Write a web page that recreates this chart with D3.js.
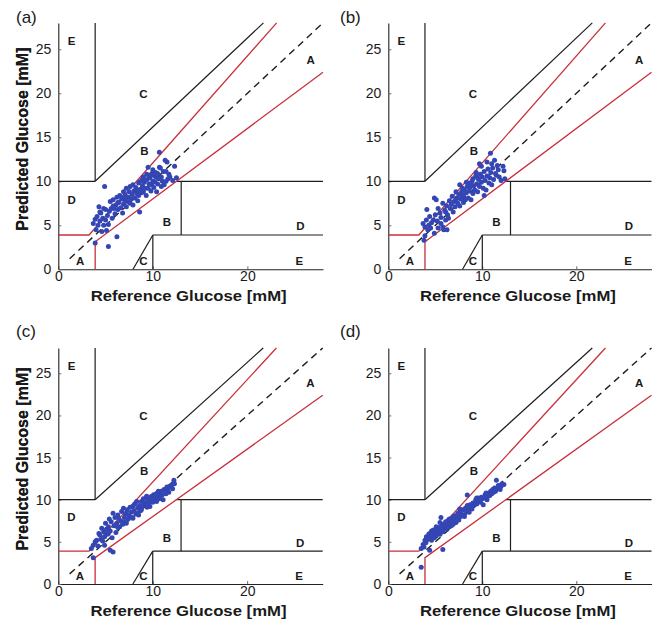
<!DOCTYPE html>
<html>
<head>
<meta charset="utf-8">
<script src="https://cdn.jsdelivr.net/npm/d3@7"></script>
<style>
  body { margin: 0; background: #fff; }
  svg { display: block; }
  text { font-family: "Liberation Sans", Arial, sans-serif; fill: #1a1a1a; }
</style>
</head>
<body>
<svg id="chart" width="652" height="620"></svg>
<script>
// Clarke error grid, 4 panels: reference vs predicted glucose (mM)
const xTicks = [0, 10, 20];
const yTicks = [0, 5, 10, 15, 20, 25];
const axisMax = 28;

// zone letters in data coords
const zoneLabels = [
  { t: "E", x: 1.4, y: 25.9 }, { t: "C", x: 9.0, y: 19.9 }, { t: "B", x: 9.1, y: 13.4 },
  { t: "A", x: 26.7, y: 23.8 }, { t: "D", x: 1.4, y: 7.9 }, { t: "B", x: 11.5, y: 5.4 },
  { t: "D", x: 25.6, y: 4.9 }, { t: "A", x: 2.3, y: 0.9 }, { t: "C", x: 9.0, y: 0.9 },
  { t: "E", x: 25.5, y: 0.9 }
];

// zone boundaries
const blackLines = [
  [[3.9, 10], [3.9, 28]],
  [[0, 10], [3.9, 10]],
  [[3.9, 10], [21.7, 28]],
  [[12.5, 10], [28, 10]],
  [[13, 3.9], [13, 10]],
  [[10, 3.9], [28, 3.9]],
  [[10, 0], [10, 3.9]],
  [[7.9, 0], [10, 3.9]]
];
const redLines = [
  [[0, 3.9], [3.25, 3.9], [23.1, 28]],
  [[3.9, 0], [3.9, 3.12], [28, 22.4]]
];
const identityLine = [[1.2, 1.2], [28, 28]];

// scatter points [reference, predicted]
const pointsA = [
  [3.7,5.2],[3.9,5.7],[4.1,6.0],[4.0,4.5],[4.2,5.0],[4.4,6.5],[4.6,4.3],[4.8,5.0],[4.8,6.9],[5.1,4.4],
  [5.3,5.1],[3.9,3.0],[5.3,2.6],[6.2,3.7],[4.9,9.4],[4.3,7.1],[4.5,6.4],[5.0,5.6],[5.2,6.1],[5.5,7.7],
  [5.4,6.6],[5.7,5.8],[5.8,7.9],[5.9,6.9],[6.0,6.3],[6.2,8.2],[6.1,7.3],[6.3,6.8],[6.5,8.4],[6.4,7.6],
  [6.6,7.0],[6.7,8.0],[6.8,6.4],[6.9,8.8],[6.9,7.4],[7.0,7.9],[7.1,8.4],[7.2,9.2],[7.2,7.1],[7.3,7.7],
  [7.4,8.2],[7.5,8.8],[7.6,9.4],[7.6,7.5],[7.7,8.0],[7.8,8.5],[7.9,9.6],[7.9,7.3],[8.0,8.9],[8.1,8.1],
  [8.2,9.3],[8.3,8.6],[8.4,7.8],[8.5,8.4],[8.5,9.8],[8.6,9.96],[8.6,6.5],[8.7,9.1],[8.8,8.7],[8.9,9.5],
  [9.0,8.8],[9.0,10.5],[9.1,9.9],[9.2,9.2],[9.3,8.4],[9.35,10.8],[9.4,10.2],[9.5,9.2],[9.5,11.6],[9.6,9.7],
  [9.7,10.4],[9.8,8.9],[9.9,9.6],[9.9,10.9],[10.0,11.3],[10.0,10.0],[10.1,9.3],[10.2,9.96],[10.3,11.0],[10.3,10.5],
  [10.4,8.8],[10.5,9.7],[10.6,10.3],[10.7,11.6],[10.69,13.3],[10.8,11.5],[10.9,10.5],[10.9,9.4],[11.0,10.0],[11.1,11.1],
  [11.3,12.4],[11.4,11.1],[11.5,12.2],[11.6,10.3],[11.7,10.8],[11.8,10.5],[12.1,10.1],[12.3,11.7],[12.5,10.4],[11.2,9.6],
  [10.1,10.7],[8.4,9.0],[7.0,8.3],[6.3,7.6],[5.6,6.9],[4.7,5.8],[4.4,5.5],[5.0,6.8],[5.8,7.2],[8.9,10.2],
  [9.6,10.7],[10.5,10.9],[11.4,10.0]
];
const pointsB = [
  [3.8,3.3],[3.9,3.8],[3.7,5.2],[3.9,4.8],[4.05,5.6],[4.1,6.8],[4.2,4.5],[4.4,6.0],[4.5,4.7],[4.6,5.3],
  [4.9,4.1],[4.9,8.1],[5.1,7.9],[5.0,6.2],[5.2,5.5],[5.3,6.9],[5.3,4.7],[5.5,6.4],[5.6,5.2],[5.8,7.5],
  [5.8,4.8],[5.9,4.5],[6.0,6.7],[6.1,5.6],[6.25,4.5],[6.2,7.2],[6.3,6.2],[6.4,5.8],[6.5,7.8],[6.6,6.9],
  [6.7,7.4],[6.8,8.3],[6.9,6.5],[7.0,7.7],[7.1,7.1],[7.2,8.8],[7.3,8.1],[7.4,7.5],[7.5,8.5],[7.6,9.6],
  [7.6,7.2],[7.7,8.0],[7.8,8.8],[7.9,9.2],[8.0,7.6],[8.0,8.4],[8.1,9.0],[8.2,7.9],[8.3,8.7],[8.4,9.4],
  [8.5,9.8],[8.5,8.1],[8.6,8.9],[8.7,9.3],[8.8,7.9],[8.9,10.0],[9.0,10.3],[9.0,8.6],[9.1,9.5],[9.2,9.0],
  [9.3,10.6],[9.35,11.0],[9.4,9.7],[9.5,8.8],[9.6,10.2],[9.7,12.0],[9.7,9.4],[9.8,10.8],[9.9,11.7],[9.9,9.9],
  [10.0,10.5],[10.1,9.2],[10.2,8.4],[10.2,11.1],[10.3,10.1],[10.4,9.0],[10.5,10.6],[10.6,11.4],[10.7,9.8],[10.8,10.4],
  [10.87,13.2],[10.9,11.0],[11.0,9.6],[11.1,11.5],[11.2,10.2],[11.3,12.4],[11.4,10.9],[11.5,10.7],[11.6,11.8],[11.8,10.5],
  [12.0,10.1],[12.2,11.7],[12.4,10.3],[12.3,11.2],[11.0,12.0],[9.5,10.4],[8.3,9.9],[7.2,8.0],[6.1,6.5],[5.6,5.9],
  [4.8,5.6],[4.3,5.0],[10.5,12.2],[11.7,11.3],[8.8,9.6],[7.9,8.3]
];
const pointsC = [
  [3.7,3.1],[3.5,4.2],[3.7,4.6],[3.9,5.0],[4.05,5.2],[4.2,4.5],[4.3,6.0],[4.4,5.8],[4.5,5.3],[4.6,6.6],
  [4.8,6.2],[4.9,4.6],[4.9,5.6],[5.0,7.2],[5.1,6.5],[5.2,5.9],[5.3,6.8],[5.4,7.7],[5.5,4.0],[5.5,6.3],
  [5.6,7.4],[5.7,5.5],[5.8,8.4],[5.8,3.8],[5.9,6.9],[6.0,7.9],[6.1,6.1],[6.2,7.2],[6.3,8.2],[6.4,7.8],
  [6.5,6.8],[6.6,7.5],[6.7,8.6],[6.8,7.1],[6.9,9.0],[7.0,7.9],[7.1,8.3],[7.2,8.4],[7.2,7.2],[7.3,8.8],
  [7.4,7.7],[7.5,8.1],[7.6,9.1],[7.7,8.5],[7.8,7.9],[7.9,9.2],[7.9,7.8],[8.0,8.7],[8.1,9.5],[8.2,8.3],
  [8.3,9.8],[8.4,9.0],[8.5,8.2],[8.6,9.3],[8.7,8.7],[8.8,8.8],[8.8,9.8],[8.9,9.2],[9.0,10.1],[9.1,9.5],
  [9.2,9.6],[9.3,10.2],[9.35,10.4],[9.4,9.1],[9.5,9.8],[9.6,10.3],[9.7,9.2],[9.8,10.0],[9.9,10.4],[10.0,9.7],
  [10.1,10.6],[10.2,10.2],[10.3,9.9],[10.4,10.75],[10.4,9.8],[10.5,10.4],[10.6,11.0],[10.7,10.1],[10.8,10.4],[10.9,11.0],
  [11.0,10.6],[11.1,10.0],[11.2,11.2],[11.3,11.1],[11.4,10.7],[11.5,11.5],[11.6,11.3],[11.7,10.9],[11.8,11.6],[12.0,11.75],
  [12.1,11.3],[12.24,12.3],[12.3,11.9],[8.4,8.4],[7.0,7.4],[6.3,6.7],[5.3,6.0],[4.7,5.1],[9.6,9.6],[10.9,10.5]
];
const pointsD = [
  [3.5,2.0],[3.5,4.2],[3.7,4.7],[3.8,4.4],[3.9,5.2],[4.0,4.9],[4.05,5.6],[4.2,5.3],[4.3,5.9],[4.4,6.0],
  [4.4,4.0],[4.5,5.5],[4.6,6.3],[4.7,5.8],[4.8,6.4],[4.9,5.5],[5.0,6.1],[5.1,6.8],[5.1,5.7],[5.2,6.4],
  [5.3,6.0],[5.4,6.7],[5.5,7.3],[5.5,5.9],[5.6,7.9],[5.6,6.4],[5.7,6.9],[5.8,4.1],[5.8,6.2],[5.9,7.1],
  [6.0,6.6],[6.1,7.4],[6.2,6.5],[6.3,7.0],[6.4,7.6],[6.5,7.7],[6.5,6.8],[6.6,7.3],[6.7,6.9],[6.8,7.8],
  [6.9,7.1],[7.0,7.5],[7.1,8.1],[7.2,7.3],[7.3,7.9],[7.4,8.4],[7.5,7.6],[7.6,8.4],[7.7,8.0],[7.8,8.7],
  [7.9,8.8],[8.0,8.2],[8.1,8.0],[8.2,9.0],[8.3,8.6],[8.4,10.55],[8.4,9.3],[8.5,8.9],[8.6,8.5],[8.7,9.4],
  [8.8,9.2],[8.9,8.9],[9.0,9.6],[9.1,9.3],[9.2,9.6],[9.3,10.0],[9.4,9.5],[9.5,9.8],[9.6,10.2],[9.7,10.0],
  [9.8,9.7],[9.9,10.3],[10.0,10.1],[10.1,9.4],[10.2,10.2],[10.3,10.6],[10.4,10.3],[10.5,10.0],[10.6,10.4],[10.7,10.8],
  [10.8,10.5],[10.9,11.0],[11.0,10.7],[11.1,11.2],[11.2,10.9],[11.3,11.4],[11.4,11.0],[11.5,12.3],[11.6,11.3],[11.7,11.7],
  [11.8,11.5],[11.9,11.2],[12.0,11.6],[12.1,11.9],[12.3,11.8],[6.9,8.0],[7.6,8.9],[5.3,6.5],[4.6,5.2],[9.4,10.2],
  [10.4,10.8]
];

// panel placement in the 652x620 page
const panels = [
  { tag: "(a)", pts: pointsA, left: 58.3, right: 323, top: 22.9, bottom: 269.3, tagX: 16, tagY: 23, labelDy: 32 },
  { tag: "(b)", pts: pointsB, left: 388.3, right: 651.5, top: 22.9, bottom: 269.3, tagX: 340, tagY: 23, labelDy: 32 },
  { tag: "(c)", pts: pointsC, left: 58.3, right: 322.7, top: 348, bottom: 584, tagX: 16, tagY: 337, labelDy: 31.5 },
  { tag: "(d)", pts: pointsD, left: 388.3, right: 651.5, top: 348, bottom: 584, tagX: 340, tagY: 337, labelDy: 31.5 }
];

const svg = d3.select("#chart");

function drawPanel(p) {
  const x = d3.scaleLinear().domain([0, axisMax]).range([p.left, p.right]);
  const y = d3.scaleLinear().domain([0, axisMax]).range([p.bottom, p.top]);
  const line = d3.line().x(d => x(d[0])).y(d => y(d[1]));
  const g = svg.append("g");

  // axes (left + bottom only, ticks pointing inward)
  const xAxis = g.append("g")
    .attr("transform", `translate(0,${p.bottom})`)
    .call(d3.axisBottom(x).tickValues(xTicks).tickSizeInner(-3).tickSizeOuter(0).tickPadding(2));
  const yAxis = g.append("g")
    .attr("transform", `translate(${p.left},0)`)
    .call(d3.axisLeft(y).tickValues(yTicks).tickSizeInner(-3).tickSizeOuter(0).tickPadding(7));
  [xAxis, yAxis].forEach(a => {
    a.select(".domain").attr("stroke", "#222").attr("stroke-width", 1.1);
    a.selectAll(".tick line").attr("stroke", "#666");
    a.selectAll(".tick text").attr("font-size", 14).attr("fill", "#222")
      .style("font-family", '"Liberation Sans", Arial, sans-serif');
  });

  // zone boundaries
  g.selectAll("path.black").data(blackLines).enter().append("path")
    .attr("class", "black").attr("d", line)
    .attr("fill", "none").attr("stroke", "#1e1e1e").attr("stroke-width", 1.2);
  g.selectAll("path.red").data(redLines).enter().append("path")
    .attr("class", "red").attr("d", line)
    .attr("fill", "none").attr("stroke", "#c9303b").attr("stroke-width", 1.3);
  g.append("path").attr("d", line(identityLine))
    .attr("fill", "none").attr("stroke", "#1e1e1e").attr("stroke-width", 1.4)
    .attr("stroke-dasharray", "7,5");

  // zone letters
  g.selectAll("text.zone").data(zoneLabels).enter().append("text")
    .attr("class", "zone")
    .attr("x", d => x(d.x)).attr("y", d => y(d.y))
    .attr("text-anchor", "middle").attr("dominant-baseline", "central")
    .attr("font-size", 11.5).attr("font-weight", "bold")
    .text(d => d.t);

  // measurements
  g.selectAll("circle").data(p.pts).enter().append("circle")
    .attr("cx", d => x(d[0])).attr("cy", d => y(d[1])).attr("r", 2.5)
    .attr("fill", "#3446b4");

  // axis titles (x title is a touch wider in the source figure)
  g.append("text")
    .attr("x", (p.left + p.right) / 2 - 2).attr("y", p.bottom + p.labelDy)
    .attr("text-anchor", "middle").attr("font-size", 15.5).attr("font-weight", "bold")
    .attr("textLength", 196).attr("lengthAdjust", "spacingAndGlyphs")
    .text("Reference Glucose [mM]");
  g.append("text")
    .attr("transform", `translate(28,${(p.top + p.bottom) / 2 - 7}) rotate(-90)`)
    .attr("text-anchor", "middle").attr("font-size", 16).attr("font-weight", "bold")
    .text("Predicted Glucose [mM]");

  // panel tag
  g.append("text").attr("x", p.tagX).attr("y", p.tagY)
    .attr("font-size", 17).text(p.tag);
}

panels.forEach(drawPanel);
</script>
</body>
</html>
